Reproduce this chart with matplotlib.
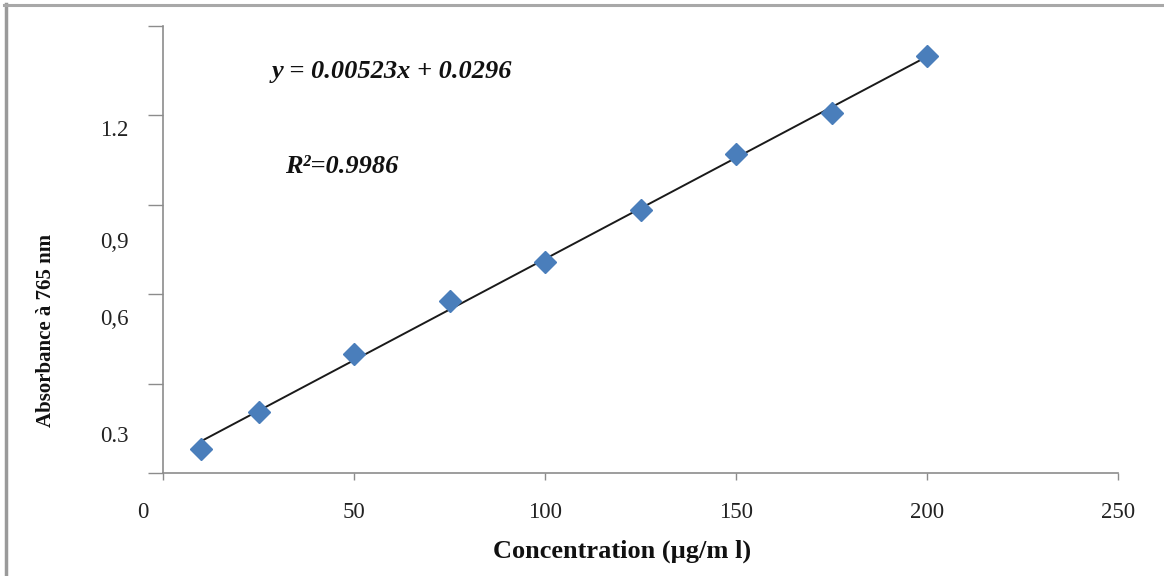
import numpy as np
import matplotlib
matplotlib.use("Agg")
import matplotlib.pyplot as plt
from matplotlib.lines import Line2D

# ---- data ----
concentration = [10, 25, 50, 75, 100, 125, 150, 175, 200]
absorbance = [0.081, 0.205, 0.40, 0.577, 0.708, 0.883, 1.070, 1.208, 1.399]

x_ticks = [0, 50, 100, 150, 200, 250]
x_tick_labels = ["", "50", "100", "150", "200", "250"]
y_ticks = [0, 0.3, 0.6, 0.9, 1.2, 1.5]
y_label_pos = [1.158, 0.782, 0.523, 0.131]
y_label_txt = ["1.2", "0,9", "0,6", "0.3"]

equation = "y = 0.00523x + 0.0296"
r2_text = "R²=0.9986"

serif = ["Liberation Serif", "DejaVu Serif"]
plt.rcParams["font.family"] = serif

fig = plt.figure(figsize=(11.64, 5.76), dpi=100)
ax = fig.add_axes([163 / 1164, 1 - 473 / 576, (1118 - 163) / 1164, (473 - 26) / 576])

axis_col = "#8c8c8c"
ax.set_xlim(0, 250)
ax.set_ylim(0, 1.5)
for s in ["top", "right"]:
    ax.spines[s].set_visible(False)
for s in ["left", "bottom"]:
    ax.spines[s].set_color(axis_col)
    ax.spines[s].set_linewidth(1.2)

# trend line
coef = np.polyfit(concentration, absorbance, 1)
xl = np.array([concentration[0], concentration[-1]])
ax.plot(xl, np.polyval(coef, xl), color="#1a1a1a", lw=1.4, zorder=2)

ax.plot(concentration, absorbance, linestyle="none", marker="D",
        markersize=11, color="#4a7ebb", markeredgecolor="#4a7ebb", zorder=3)

tick_fs = 16.5
# x ticks
ax.set_xticks(x_ticks)
ax.set_xticklabels(x_tick_labels, fontsize=tick_fs, color="#222222")
ax.tick_params(axis="x", direction="out", length=5, width=1, color=axis_col, pad=16)
ax.annotate("0", xy=(0, 0), xycoords=("data", "axes fraction"),
            xytext=(-20, -29), textcoords="offset pixels",
            ha="center", va="top", fontsize=tick_fs, color="#222222")

# y ticks (marks only) + offset labels
ax.set_yticks(y_ticks)
ax.set_yticklabels([""] * len(y_ticks))
ax.tick_params(axis="y", which="major", direction="out", length=11, width=1, color=axis_col)
ax.set_yticks(y_label_pos, minor=True)
ax.set_yticklabels(y_label_txt, minor=True, fontsize=tick_fs, color="#222222")
ax.tick_params(axis="y", which="minor", length=0, pad=25)

ax.set_xlabel("Concentration (µg/m l)", fontsize=19, fontweight="bold", color="#111111")
ax.xaxis.set_label_coords(0.481, -0.15)
ax.set_ylabel("Absorbance à 765 nm", fontsize=15, fontweight="bold", color="#111111")
ax.yaxis.set_label_coords(-0.112, 0.318)

ax.text(28.5, 1.346, equation, fontsize=19, fontweight="bold", fontstyle="italic",
        ha="left", va="center", color="#111111")
ax.text(32, 1.030, r2_text, fontsize=19, fontweight="bold", fontstyle="italic",
        ha="left", va="center", color="#111111")

# gray frame lines at top and left of the picture
fig.add_artist(Line2D([5.5 / 1164, 5.5 / 1164], [0, 1 - 4 / 576], color="#9a9a9a", lw=2.5,
                      transform=fig.transFigure))
fig.add_artist(Line2D([4 / 1164, 1], [1 - 4.5 / 576, 1 - 4.5 / 576], color="#a8a8a8", lw=2.2,
                      transform=fig.transFigure))

fig.savefig("out.png", dpi=100)
